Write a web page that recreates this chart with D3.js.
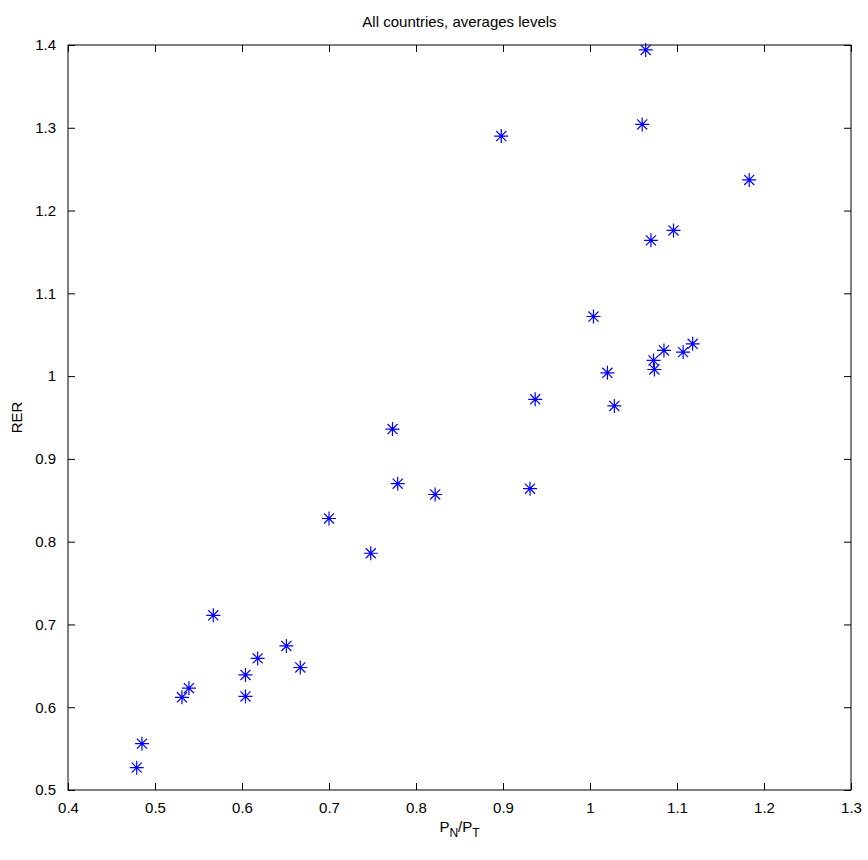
<!DOCTYPE html>
<html><head><meta charset="utf-8">
<script src="https://cdn.jsdelivr.net/npm/d3@7"></script>
<style>body{margin:0;background:#fff}text{font-family:"Liberation Sans",Arial,sans-serif}</style>
</head><body><div id="chart"></div>
<script>
const xVals = [1.064,1.060,0.898,1.183,1.096,1.070,1.004,1.020,1.028,0.937,1.073,1.074,1.085,1.107,1.118,0.773,0.779,0.822,0.931,0.700,0.748,0.567,0.651,0.618,0.667,0.604,0.604,0.539,0.531,0.485,0.479];
const yVals = [1.394,1.304,1.290,1.237,1.176,1.164,1.072,1.004,0.964,0.972,1.019,1.008,1.031,1.029,1.039,0.936,0.870,0.857,0.864,0.828,0.786,0.711,0.674,0.659,0.648,0.639,0.613,0.623,0.612,0.556,0.527];
const xTicks = [0.4,0.5,0.6,0.7,0.8,0.9,1,1.1,1.2,1.3];
const yTicks = [0.5,0.6,0.7,0.8,0.9,1,1.1,1.2,1.3,1.4];

const width = 868, height = 860;
const m = {left: 68, right: 17, top: 45, bottom: 70};
const svg = d3.select("#chart").append("svg").attr("width", width).attr("height", height);
const x = d3.scaleLinear().domain([0.4, 1.3]).range([m.left, width - m.right]);
const y = d3.scaleLinear().domain([0.5, 1.4]).range([height - m.bottom, m.top]);

svg.append("rect").attr("x", m.left).attr("y", m.top)
  .attr("width", x(1.3) - x(0.4)).attr("height", y(0.5) - y(1.4))
  .attr("fill", "none").attr("stroke", "#000");

const fmt = d => String(+d.toFixed(1));
const styleAxis = g => {
  g.select(".domain").remove();
  g.selectAll("text").style("font-size", "15px").attr("fill", "#000");
};
svg.append("g").attr("transform", `translate(0,${y(0.5)})`)
  .call(d3.axisBottom(x).tickValues(xTicks).tickFormat(fmt).tickSizeInner(-7).tickPadding(12)).call(styleAxis);
svg.append("g").attr("transform", `translate(0,${y(1.4)})`)
  .call(d3.axisTop(x).tickValues(xTicks).tickFormat("").tickSizeInner(-7)).call(styleAxis);
svg.append("g").attr("transform", `translate(${x(0.4)},0)`)
  .call(d3.axisLeft(y).tickValues(yTicks).tickFormat(fmt).tickSizeInner(-7).tickPadding(12)).call(styleAxis);
svg.append("g").attr("transform", `translate(${x(1.3)},0)`)
  .call(d3.axisRight(y).tickValues(yTicks).tickFormat("").tickSizeInner(-7)).call(styleAxis);

// MATLAB-style asterisk: plus and cross
const star = {draw(ctx, size) {
  const r = Math.sqrt(size) / 2, d = r * 0.72;
  ctx.moveTo(-r, 0); ctx.lineTo(r, 0);
  ctx.moveTo(0, -r); ctx.lineTo(0, r);
  ctx.moveTo(-d, -d); ctx.lineTo(d, d);
  ctx.moveTo(-d, d); ctx.lineTo(d, -d);
}};
svg.append("g").selectAll("path").data(xVals).join("path")
  .attr("transform", (d, i) => `translate(${x(d)},${y(yVals[i])})`)
  .attr("d", d3.symbol().type(star).size(196)).attr("fill", "none").attr("stroke", "#0000ff").attr("stroke-width", 1.2);

svg.append("text").attr("x", (x(0.4) + x(1.3)) / 2).attr("y", 27)
  .attr("text-anchor", "middle").style("font-size", "15px").text("All countries, averages levels");
const xl = svg.append("text").attr("x", (x(0.4) + x(1.3)) / 2).attr("y", 832)
  .attr("text-anchor", "middle").style("font-size", "15px");
xl.append("tspan").text("P");
xl.append("tspan").attr("dy", 5).style("font-size", "12px").text("N");
xl.append("tspan").attr("dy", -5).text("/P");
xl.append("tspan").attr("dy", 5).style("font-size", "12px").text("T");
svg.append("text").attr("transform", `translate(22,${(y(0.5) + y(1.4)) / 2}) rotate(-90)`)
  .attr("text-anchor", "middle").style("font-size", "15px").text("RER");
</script></body></html>
